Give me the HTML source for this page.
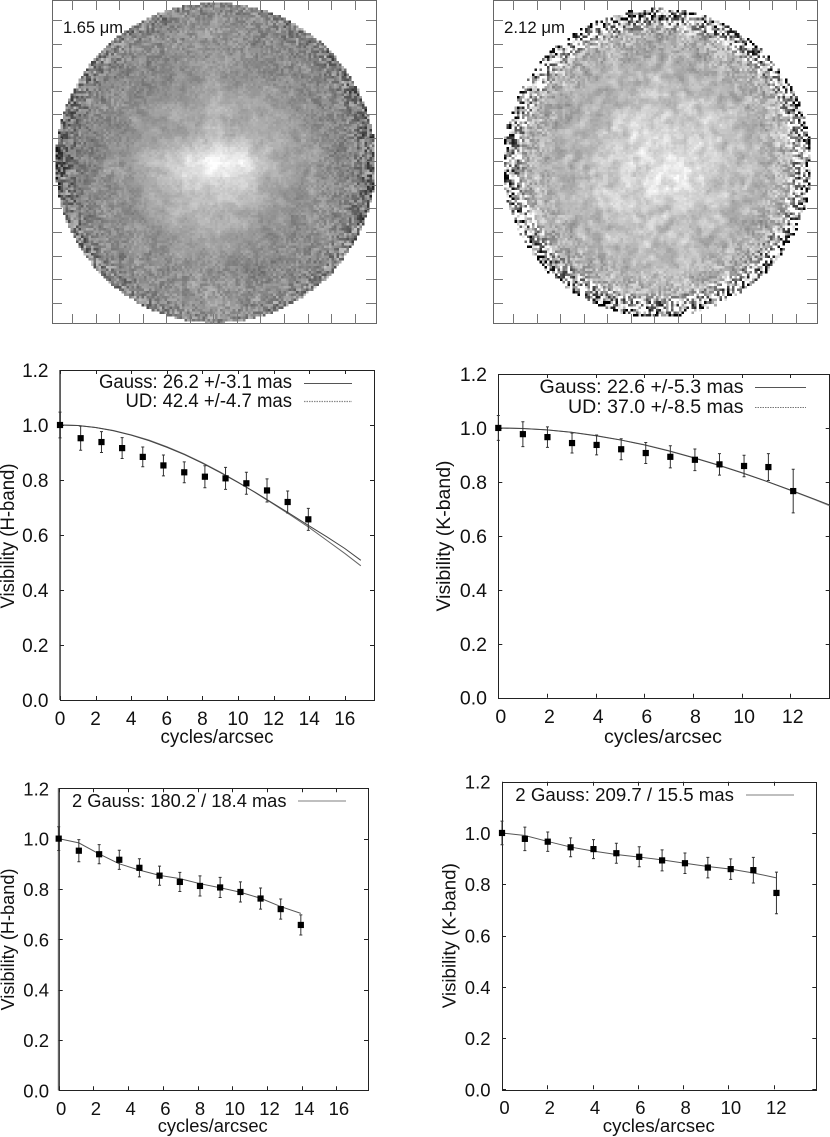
<!DOCTYPE html>
<html lang="en">
<head>
<meta charset="utf-8">
<title>Visibility charts at 1.65 and 2.12 micron</title>
<style>
html,body{margin:0;padding:0;background:#fff;}
#stage{position:relative;width:830px;height:1137px;overflow:hidden;background:#fff;}
canvas{position:absolute;top:0;width:324px;height:324px;image-rendering:pixelated;}
svg{position:absolute;left:0;top:0;}
text{font-family:"Liberation Sans",sans-serif;fill:#111;}
</style>
</head>
<body>
<div id="stage">
<canvas id="imgH" width="128" height="128" style="left:52.5px"></canvas>
<canvas id="imgK" width="128" height="128" style="left:493.5px"></canvas>
<svg id="fig" width="830" height="1137" viewBox="0 0 830 1137">
  <g id="frameH"></g>
  <g id="frameK"></g>
  <text x="63" y="33" font-size="17" textLength="60" lengthAdjust="spacingAndGlyphs">1.65 μm</text>
  <text x="504" y="33" font-size="17" textLength="61" lengthAdjust="spacingAndGlyphs">2.12 μm</text>

  <g id="p1">
    <text x="99" y="388" font-size="19" textLength="193" lengthAdjust="spacingAndGlyphs">Gauss: 26.2 +/-3.1 mas</text>
    <text x="125.500" y="407" font-size="19" textLength="166.500" lengthAdjust="spacingAndGlyphs">UD: 42.4 +/-4.7 mas</text>
    <line x1="304" x2="352" y1="383.500" y2="383.500" stroke="#555"/>
    <line x1="304" x2="352" y1="401.500" y2="401.500" stroke="#888" stroke-width="1.300" stroke-dasharray="1.500 1"/>
    <text x="217" y="743" font-size="19" text-anchor="middle" textLength="113" lengthAdjust="spacingAndGlyphs">cycles/arcsec</text>
    <text transform="translate(14 536) rotate(-90)" font-size="19" text-anchor="middle" textLength="145" lengthAdjust="spacingAndGlyphs">Visibility (H-band)</text>
  </g>
  <g id="p2">
    <text x="539.500" y="393" font-size="19.500" textLength="204" lengthAdjust="spacingAndGlyphs">Gauss: 22.6 +/-5.3 mas</text>
    <text x="568" y="413" font-size="19.500" textLength="175.500" lengthAdjust="spacingAndGlyphs">UD: 37.0 +/-8.5 mas</text>
    <line x1="755" x2="806" y1="387.500" y2="387.500" stroke="#555"/>
    <line x1="755" x2="806" y1="407.500" y2="407.500" stroke="#777" stroke-dasharray="1.500 1"/>
    <text x="663" y="743" font-size="19.500" text-anchor="middle" textLength="118" lengthAdjust="spacingAndGlyphs">cycles/arcsec</text>
    <text transform="translate(450 536) rotate(-90)" font-size="19.500" text-anchor="middle" textLength="151" lengthAdjust="spacingAndGlyphs">Visibility (K-band)</text>
  </g>
  <g id="p3">
    <text x="72" y="807" font-size="18.500" textLength="214.500" lengthAdjust="spacingAndGlyphs">2 Gauss: 180.2 / 18.4 mas</text>
    <line x1="298" x2="346" y1="801" y2="801" stroke="#aaa" stroke-width="1.500"/>
    <text x="212.700" y="1132" font-size="18.500" text-anchor="middle" textLength="110" lengthAdjust="spacingAndGlyphs">cycles/arcsec</text>
    <text transform="translate(14 939.500) rotate(-90)" font-size="18.500" text-anchor="middle" textLength="142" lengthAdjust="spacingAndGlyphs">Visibility (H-band)</text>
  </g>
  <g id="p4">
    <text x="515.300" y="801" font-size="18.500" textLength="218.700" lengthAdjust="spacingAndGlyphs">2 Gauss: 209.7 / 15.5 mas</text>
    <line x1="746" x2="794" y1="795" y2="795" stroke="#aaa" stroke-width="1.500"/>
    <text x="658.800" y="1132" font-size="18.500" text-anchor="middle" textLength="112" lengthAdjust="spacingAndGlyphs">cycles/arcsec</text>
    <text transform="translate(455.700 935.700) rotate(-90)" font-size="18.500" text-anchor="middle" textLength="145" lengthAdjust="spacingAndGlyphs">Visibility (K-band)</text>
  </g>
</svg>
</div>
<script>
// ---- Data ----
const yTickValues = [0, 0.2, 0.4, 0.6, 0.8, 1.0, 1.2];
const yTickLabels = ["0.0", "0.2", "0.4", "0.6", "0.8", "1.0", "1.2"];
const xTicksH = [0, 2, 4, 6, 8, 10, 12, 14, 16];
const xTicksK = [0, 2, 4, 6, 8, 10, 12];

const freqH = [0, 1.16, 2.33, 3.49, 4.65, 5.81, 6.98, 8.14, 9.30, 10.47, 11.63, 12.79, 13.95];
const visH  = [1.000, 0.952, 0.938, 0.916, 0.884, 0.853, 0.828, 0.812, 0.806, 0.788, 0.762, 0.720, 0.657];
const errH  = [0.047, 0.044, 0.038, 0.038, 0.036, 0.038, 0.038, 0.040, 0.040, 0.040, 0.042, 0.040, 0.040];

const freqK = [0, 1.01, 2.02, 3.03, 4.04, 5.05, 6.06, 7.07, 8.08, 9.09, 10.10, 11.10, 12.12];
const visK  = [1.000, 0.977, 0.966, 0.944, 0.937, 0.921, 0.907, 0.893, 0.882, 0.865, 0.859, 0.855, 0.766];
const errK  = [0.046, 0.046, 0.038, 0.037, 0.037, 0.039, 0.039, 0.041, 0.040, 0.040, 0.040, 0.050, 0.081];

const curveFreqH = [0, 1, 2, 3, 4, 5, 6, 7, 8, 9, 10, 11, 12, 13, 14, 15, 16, 16.9];
const gaussH = [1.000, 0.998, 0.991, 0.979, 0.963, 0.943, 0.919, 0.892, 0.861, 0.827, 0.791, 0.754, 0.714, 0.674, 0.633, 0.593, 0.551, 0.508];
const udH    = [1.000, 0.998, 0.991, 0.980, 0.964, 0.945, 0.921, 0.894, 0.863, 0.829, 0.792, 0.753, 0.712, 0.670, 0.627, 0.580, 0.533, 0.488];

const curveFreqK = [0, 1, 2, 3, 4, 5, 6, 7, 8, 9, 10, 11, 12, 13, 13.6];
const gaussK = [1.000, 0.998, 0.993, 0.984, 0.971, 0.956, 0.937, 0.915, 0.890, 0.863, 0.834, 0.803, 0.770, 0.736, 0.715];
const udK    = [1.000, 0.998, 0.993, 0.984, 0.972, 0.956, 0.938, 0.916, 0.891, 0.864, 0.835, 0.803, 0.769, 0.734, 0.712];

const twoGaussH = [1.000, 0.983, 0.939, 0.900, 0.875, 0.854, 0.841, 0.821, 0.805, 0.787, 0.763, 0.730, 0.703];
const twoGaussK = [1.000, 0.990, 0.967, 0.945, 0.929, 0.916, 0.906, 0.895, 0.882, 0.869, 0.859, 0.844, 0.825];

// Coarse brightness maps estimated from the two speckle images (0-255).
const brightnessH = [
[125,125,125,125,128,135,145,140,130,125,125,125,125],
[125,125,128,135,140,145,152,145,140,130,122,118,118],
[118,125,135,140,140,145,155,150,135,135,128,118,112],
[112,130,135,132,140,145,160,145,150,140,135,125,105],
[105,130,140,150,155,165,175,170,165,145,140,130,105],
[100,130,145,145,160,170,195,185,170,155,145,135,100],
[ 95,130,148,165,190,235,252,242,180,160,148,135, 95],
[100,130,145,155,180,190,205,195,170,155,145,135,100],
[108,130,145,140,165,180,185,175,155,140,145,135,105],
[112,135,140,145,150,160,165,155,140,140,140,135,108],
[112,125,135,140,145,145,150,135,140,135,140,135,120],
[120,122,135,140,140,150,158,145,145,140,140,125,120],
[122,122,122,125,130,145,152,140,130,122,122,122,122]];
const brightnessK = [
[178,178,178,178,188,183,178,183,188,178,178,178,178],
[178,178,198,215,183,173,168,173,178,198,178,178,178],
[178,198,198,173,173,178,178,173,173,168,188,178,178],
[178,188,173,178,173,183,193,188,178,178,173,183,178],
[178,183,173,173,183,193,203,203,198,183,178,183,183],
[178,183,178,183,198,218,213,213,208,193,178,193,188],
[178,183,178,183,198,218,223,233,208,188,183,183,178],
[178,188,183,188,203,213,223,228,203,188,178,183,178],
[178,203,178,188,198,203,198,198,198,178,178,188,183],
[178,183,173,183,193,188,193,193,183,173,178,193,183],
[178,178,178,173,178,183,198,188,178,178,178,178,178],
[178,178,203,198,183,178,178,183,193,213,223,178,178],
[178,178,178,178,183,183,178,183,183,178,178,178,178]];

// ---- Drawing ----
const NS = "http://www.w3.org/2000/svg";
function svgEl(parent, tag, attrs) {
  const el = document.createElementNS(NS, tag);
  for (const k in attrs) el.setAttribute(k, attrs[k]);
  parent.appendChild(el);
  return el;
}

function drawPanel(opts) {
  const g = document.getElementById(opts.id);
  const sx = v => opts.left + (opts.right - opts.left) * v / opts.xMax;
  const sy = v => opts.bottom - (opts.bottom - opts.top) * v / 1.2;

  const frame = svgEl(g, "rect", {x: Math.round(opts.left) + 0.5, y: Math.round(opts.top) + 0.5,
    width: Math.round(opts.right - opts.left), height: Math.round(opts.bottom - opts.top),
    fill: "none", stroke: "#222", "stroke-width": 1});
  
  

  if (opts.thickLeft) {
    const axis = svgEl(g, "line", {x1: sx(0), x2: sx(0), y1: opts.top, y2: opts.bottom, stroke: "#666", "stroke-width": 1.8});
    
    
  }

  yTickValues.forEach((v, i) => {
    const y = Math.round(sy(v)) + 0.5;
    const tick = svgEl(g, "path", {d: `M${opts.left} ${y}h4M${opts.right} ${y}h-4`, stroke: "#222", fill: "none"});
    
    
    const label = svgEl(g, "text", {x: opts.yLabelRight, y: sy(v) + 7, "font-size": opts.font, "text-anchor": "end"});
    label.textContent = yTickLabels[i];
    
    
  });
  opts.xTicks.forEach(v => {
    const x = Math.round(sx(v)) + 0.5;
    const tick = svgEl(g, "path", {d: `M${x} ${opts.bottom}v-4M${x} ${opts.top}v4`, stroke: "#222", fill: "none"});
    
    
    const label = svgEl(g, "text", {x: sx(v) + opts.xShift, y: opts.xLabelY, "font-size": opts.font, "text-anchor": "middle"});
    label.textContent = String(v);
    
    
  });

  opts.curves.forEach(c => {
    const pts = c.ys.map((v, i) => sx(c.xs[i]).toFixed(2) + "," + sy(v).toFixed(2)).join(" ");
    const line = svgEl(g, "polyline", {points: pts, fill: "none", stroke: c.color, "stroke-width": c.width});
    
    
  });

  opts.vis.forEach((v, i) => {
    const x = sx(opts.freq[i]);
    const y = sy(v);
    const hi = sy(v + opts.err[i]);
    const lo = sy(v - opts.err[i]);
    const bar = svgEl(g, "path", {d: `M${x} ${hi}V${lo}M${x - 1.5} ${hi}h3M${x - 1.5} ${lo}h3`, stroke: "#333", "stroke-width": 1, fill: "none"});
    
    
    const pt = svgEl(g, "rect", {x: x - 3.1, y: y - 3.1, width: 6.2, height: 6.2, fill: "#000"});
    
    
  });
}

drawPanel({id: "p1", left: 60, right: 374, top: 370, bottom: 700, xMax: 17.64, xTicks: xTicksH, thickLeft: true,
  xShift: 0, xLabelY: 725, yLabelRight: 48.5, font: 19, freq: freqH, vis: visH, err: errH,
  curves: [{xs: curveFreqH, ys: udH, color: "#666", width: 1, name: "ud-fit-curve"},
           {xs: curveFreqH, ys: gaussH, color: "#444", width: 1, name: "gauss-fit-curve"}]});
drawPanel({id: "p2", left: 498.300, right: 829.700, top: 374, bottom: 697.700, xMax: 13.62, xTicks: xTicksK, thickLeft: false,
  xShift: 2.500, xLabelY: 723, yLabelRight: 487, font: 19.500, freq: freqK, vis: visK, err: errK,
  curves: [{xs: curveFreqK, ys: udK, color: "#888", width: 1, name: "ud-fit-curve"},
           {xs: curveFreqK, ys: gaussK, color: "#444", width: 1, name: "gauss-fit-curve"}]});
drawPanel({id: "p3", left: 58.700, right: 368, top: 788.300, bottom: 1090.300, xMax: 17.82, xTicks: xTicksH, thickLeft: true,
  xShift: 2.500, xLabelY: 1115, yLabelRight: 49, font: 18.500, freq: freqH, vis: visH, err: errH,
  curves: [{xs: freqH, ys: twoGaussH, color: "#555", width: 1, name: "two-gauss-fit-curve"}]});
drawPanel({id: "p4", left: 502, right: 816.300, top: 781.700, bottom: 1089.300, xMax: 13.88, xTicks: xTicksK, thickLeft: false,
  xShift: 2.500, xLabelY: 1114, yLabelRight: 490.500, font: 18.500, freq: freqK, vis: visK, err: errK,
  curves: [{xs: freqK, ys: twoGaussK, color: "#555", width: 1, name: "two-gauss-fit-curve"}]});

function drawImageFrame(id, left) {
  const g = document.getElementById(id);
  const box = svgEl(g, "rect", {x: left + 0.5, y: 0.5, width: 324, height: 323, fill: "none", stroke: "#666"});
  
  
  for (let i = 0; i < 13; i++) {
    const p = Math.round(20 + 23.55 * i) + 0.5;
    const tick = svgEl(g, "path", {d: `M${left + p} 0v10M${left + p} 324v-10M${left} ${p}h10M${left + 324} ${p}h-10`, stroke: "#777", fill: "none"});
    
    
  }
}
drawImageFrame("frameH", 52);
drawImageFrame("frameK", 493);

// Fine speckle is a decorative, deterministic texture layered on the estimated brightness maps.
function hash(x, y, seed) {
  const n = Math.sin(x * 127.1 + y * 311.7 + seed * 74.7) * 43758.5453;
  return n - Math.floor(n);
}
function smoothNoise(x, y, seed) {
  const xi = Math.floor(x), yi = Math.floor(y);
  const fx = x - xi, fy = y - yi;
  const ux = fx * fx * (3 - 2 * fx), uy = fy * fy * (3 - 2 * fy);
  const a = hash(xi, yi, seed), b = hash(xi + 1, yi, seed);
  const c = hash(xi, yi + 1, seed), d = hash(xi + 1, yi + 1, seed);
  return (a * (1 - ux) + b * ux) * (1 - uy) + (c * (1 - ux) + d * ux) * uy - 0.5;
}
function sampleGrid(grid, gx, gy) {
  const n = grid.length - 1;
  const x = Math.max(0, Math.min(n, gx)), y = Math.max(0, Math.min(n, gy));
  const xi = Math.min(n - 1, Math.floor(x)), yi = Math.min(n - 1, Math.floor(y));
  const fx = x - xi, fy = y - yi;
  return (grid[yi][xi] * (1 - fx) + grid[yi][xi + 1] * fx) * (1 - fy) +
         (grid[yi + 1][xi] * (1 - fx) + grid[yi + 1][xi + 1] * fx) * fy;
}
function drawSpeckle(id, grid, cx, cy, radius, blobAmp, blobCells, grainAt, seed) {
  const cv = document.getElementById(id);
  const ctx = cv.getContext("2d");
  const img = ctx.createImageData(128, 128);
  for (let j = 0; j < 128; j++) {
    for (let i = 0; i < 128; i++) {
      const dx = (i + 0.5) / 128 - cx, dy = (j + 0.5) / 128 - cy;
      const dist = Math.sqrt(dx * dx + dy * dy);
      const r = dist / radius;
      const side = dist > 0 ? Math.abs(dx) / dist : 0;
      const o = (j * 128 + i) * 4;
      img.data[o] = img.data[o + 1] = img.data[o + 2] = 255;
      img.data[o + 3] = 255;
      if (r > 1) continue;
      let v = sampleGrid(grid, (dx / radius + 1) * 6, (dy / radius + 1) * 6);
      const u1 = (i * 0.82 + j * 0.57) / blobCells, v1 = (j * 0.82 - i * 0.57) / blobCells;
      const u2 = (i * 0.5 - j * 0.87) / (blobCells * 0.6), v2 = (j * 0.5 + i * 0.87) / (blobCells * 0.6);
      v += blobAmp * (smoothNoise(u1, v1, seed) + 0.6 * smoothNoise(u2, v2, seed + 2));
      v += grainAt(r, side) * (hash(i, j, seed + 1) - 0.5) * 2;
      v = Math.max(0, Math.min(255, v));
      img.data[o] = img.data[o + 1] = img.data[o + 2] = v;
    }
  }
  ctx.putImageData(img, 0, 0);
}
drawSpeckle("imgH", brightnessH, 0.502, 0.503, 0.494, 26, 3.4,
  (r, side) => (r < 0.5 ? 8 : r < 0.85 ? 8 + (r - 0.5) * 50 : 25 + (r - 0.85) * 380) * (r > 0.85 ? 0.45 + 0.55 * side : 1), 3);
drawSpeckle("imgK", brightnessK, 0.504, 0.503, 0.476, 44, 2.8,
  (r, side) => r < 0.65 ? 8 : r < 0.85 ? 8 + (r - 0.65) * 150 : 38 + (r - 0.85) * 1500, 7);
</script>
</body>
</html>
